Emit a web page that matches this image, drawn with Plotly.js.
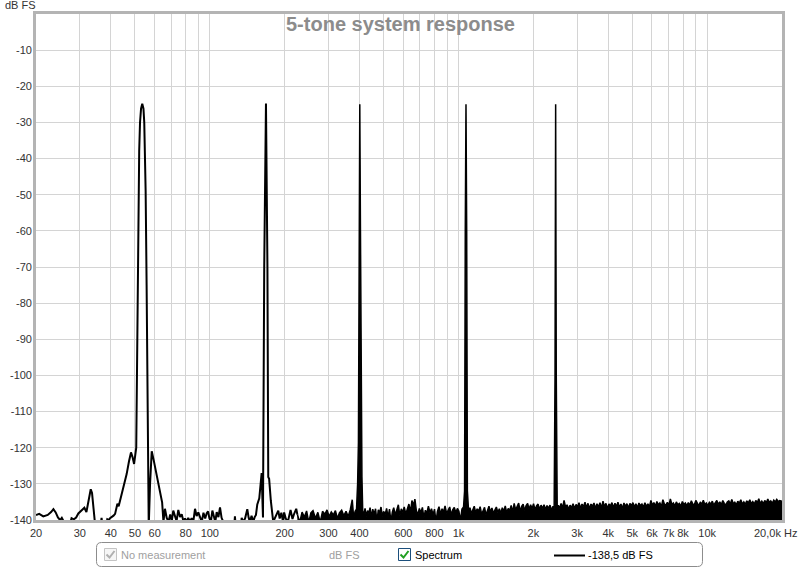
<!DOCTYPE html>
<html>
<head>
<meta charset="utf-8">
<script src="https://cdn.plot.ly/plotly-3.0.1.min.js"></script>
<style>html,body{margin:0;padding:0;background:#fff;}#chart{width:800px;height:568px;}</style>
</head>
<body>
<div id="chart"></div>
<script>
// ---- Data ----
// Low-frequency part of the spectrum (drawn as plain line)
const loFreq = [
20.0,20.6,21.4,22.3,23.0,23.5,24.0,24.5,25.0,25.4,
25.8,26.3,27.3,27.8,28.4,29.0,29.6,30.2,30.8,31.3,
31.9,32.4,33.2,33.6,34.1,34.6,36.4,36.7,37.0,38.3,
38.7,39.2,39.7,40.4,41.0,41.6,42.1,42.5,43.0,43.5,
44.2,45.2,46.3,47.3,48.2,48.9,49.6,50.6,51.2,51.6,
52.0,52.4,52.9,53.5,54.1,54.5,54.8,55.2,55.7,56.3,
56.8,57.5,58.4,59.5,61.5,63.0,64.3,65.1,66.0,67.1,
68.2,69.3,70.3,71.3,72.4,73.5,74.7,75.9,77.1,78.3,
79.5,80.7,81.9,83.2,84.5,85.8,87.2,88.5,89.9,91.4,
92.8,94.3,95.8,97.2,98.4,99.6,101.0,102.4,103.8,105.2,
106.6,108.3,109.9,111.5,113.3,115.0,125.4,126.2,127.0,133.6,
134.3,136.0,138.6,141.5,143.3,145.0,147.2,149.5,151.5,153.3,
155.2,158.1,161.6,163.6,165.5,168.2,170.5,171.8,173.2,175.9,
179.9,184.0,188.5,191.0,194.0,197.0,199.0,202.0,206.0,211.2,
215.0,218.0,222.6,225.0];
const loDb = [
-138.6,-138.3,-139.0,-138.6,-137.8,-137.0,-137.9,-139.3,-140.0,-139.4,
-140.3,-141.5,-141.5,-139.5,-139.8,-139.3,-138.2,-137.6,-136.8,-136.6,
-137.8,-135.5,-131.5,-132.5,-136.5,-141.5,-141.5,-139.4,-141.5,-141.5,
-139.8,-140.0,-139.5,-139.2,-138.8,-138.3,-136.5,-135.5,-136.2,-134.8,
-133.3,-130.5,-127.3,-123.8,-121.3,-122.6,-124.5,-120.0,-75.0,-49.0,
-38.0,-30.0,-26.2,-24.8,-26.2,-30.0,-38.0,-49.0,-75.0,-125.0,
-142.0,-130.0,-121.0,-123.5,-128.4,-132.0,-135.1,-140.5,-136.9,-139.4,
-140.5,-138.5,-140.3,-137.4,-138.6,-140.3,-137.2,-139.2,-138.4,-140.3,
-139.6,-140.5,-139.4,-140.5,-139.5,-140.5,-136.9,-138.9,-137.9,-139.5,
-140.5,-138.0,-139.6,-138.1,-137.6,-139.5,-140.5,-137.4,-138.8,-140.5,
-137.8,-139.2,-136.5,-139.4,-140.5,-141.5,-141.5,-139.0,-141.5,-141.5,
-139.4,-140.5,-139.6,-137.0,-139.4,-140.5,-138.8,-140.5,-139.2,-138.6,
-135.7,-134.0,-127.0,-139.3,-70.0,-24.8,-70.0,-128.1,-128.6,-134.6,
-140.5,-139.2,-137.4,-139.6,-138.0,-140.5,-137.9,-139.6,-140.5,-137.2,
-139.7,-138.4,-136.9,-138.5];

// Dense noise floor and upper tones (drawn filled down to the axis floor)
const hiFreq = [
225,230,235,240,245,250,255,260,266,272,
278,284,290,296,302,308,314,320,326,332,
339,346,353,360,367,374,379,384,389,393,
396,398.5,401,403.5,406,409,412,416,421,426,
431,436,441,446,452,458,464,470,476,482,
488,494,500,507,514,521,528,535,542,549,
557,565,573,581,589,597,605,614,623,632,
641,650,659,668,677,686,696,706,716,726,
736,746,757,768,779,790,801,812,823,835,
847,859,871,883,896,909,922,935,948,962,
976,990,1004,1018,1033,1048,1058,1065,1072,1079,
1086,1098,1112,1127,1142,1157,1173,1189,1205,1222,
1239,1256,1273,1290,1308,1326,1344,1363,1382,1401,
1420,1440,1460,1480,1500,1521,1542,1563,1585,1607,
1629,1652,1675,1698,1722,1746,1770,1795,1820,1845,
1871,1897,1923,1950,1977,2004,2032,2060,2089,2118,
2148,2178,2208,2239,2270,2302,2334,2367,2400,2425,
2445,2459,2473,2495,2520,2551,2586,2622,2658,2695,
2733,2771,2810,2849,2889,2929,2970,3011,3053,3096,
3139,3183,3227,3272,3318,3364,3411,3459,3507,3556,
3606,3656,3707,3759,3812,3865,3919,3974,4029,4085,
4142,4200,4259,4318,4378,4439,4501,4564,4628,4693,
4759,4825,4892,4961,5030,5100,5171,5244,5317,5391,
5466,5543,5620,5699,5778,5859,5941,6024,6108,6193,
6280,6367,6456,6546,6638,6730,6824,6919,7016,7114,
7213,7314,7416,7519,7624,7731,7839,7948,8059,8172,
8286,8402,8519,8638,8759,8881,9005,9131,9259,9388,
9519,9652,9787,9924,10063,10203,10346,10490,10637,10786,
10936,11089,11244,11401,11561,11722,11886,12052,12221,12392,
12565,12740,12919,13099,13282,13468,13656,13847,14041,14237,
14436,14638,14842,15050,15260,15474,15690,15909,16132,16357,
16586,16818,17053,17291,17533,17778,18026,18278,18534,18793,
19055,19322,19592,20000];
const hiDb = [
-138.5,-140.6,-137.8,-139.2,-137.5,-140.6,-138.0,-137.4,-139.5,-137.9,
-140.6,-137.6,-138.4,-137.2,-139.0,-137.8,-138.6,-137.4,-139.6,-138.0,
-137.3,-138.8,-137.6,-139.0,-137.2,-134.4,-139.5,-137.6,-137.0,-130.0,
-118.5,-60.0,-25.0,-60.0,-121.0,-128.0,-137.5,-138.6,-136.8,-139.0,
-137.4,-138.2,-136.6,-139.2,-137.0,-138.4,-136.9,-140.4,-137.2,-138.0,
-136.4,-139.0,-137.6,-138.5,-136.8,-139.2,-137.0,-140.5,-137.8,-136.6,
-138.6,-137.2,-135.8,-138.8,-136.9,-137.9,-136.4,-138.3,-137.1,-135.6,
-137.8,-134.6,-136.0,-134.2,-137.4,-138.6,-136.8,-138.0,-136.5,-139.4,
-137.3,-138.1,-136.2,-137.9,-136.9,-138.5,-137.0,-140.5,-137.6,-136.3,
-138.4,-136.9,-137.8,-136.1,-138.2,-137.0,-136.4,-138.6,-137.2,-136.5,
-138.0,-136.8,-137.6,-140.2,-137.0,-136.4,-132.0,-60.0,-25.0,-60.0,
-132.0,-137.5,-136.6,-138.2,-137.0,-136.2,-138.0,-136.9,-137.6,-136.3,
-138.4,-137.1,-136.5,-138.6,-137.0,-136.2,-137.8,-136.7,-138.1,-137.2,
-136.4,-137.9,-136.9,-138.2,-136.6,-137.6,-136.1,-138.0,-136.8,-137.4,
-136.0,-137.8,-135.4,-137.2,-136.3,-135.3,-137.6,-136.2,-135.6,-137.4,
-136.0,-135.4,-137.0,-135.8,-136.8,-135.5,-137.2,-136.1,-135.6,-137.0,
-135.9,-136.8,-135.8,-137.1,-136.0,-136.8,-135.9,-137.3,-136.2,-136.8,
-100.0,-25.0,-100.0,-137.0,-135.9,-136.8,-135.4,-136.7,-134.6,-136.4,
-135.8,-137.0,-135.9,-136.6,-135.5,-136.9,-135.7,-136.4,-135.2,-136.8,
-135.6,-136.3,-135.1,-136.6,-135.4,-136.9,-135.6,-136.2,-135.3,-136.8,
-135.5,-136.4,-135.2,-136.7,-134.8,-136.3,-135.4,-136.8,-135.6,-136.1,
-135.2,-136.6,-135.4,-136.3,-135.1,-136.5,-135.6,-136.8,-135.3,-136.2,
-135.5,-136.7,-135.4,-136.1,-135.2,-136.4,-135.5,-136.6,-135.3,-136.0,
-135.6,-136.5,-135.2,-136.3,-135.5,-136.4,-134.6,-135.9,-135.2,-136.2,
-134.9,-135.8,-135.3,-136.3,-134.4,-135.6,-135.9,-135.1,-136.0,-134.2,
-135.7,-135.3,-136.1,-135.0,-135.8,-135.4,-136.2,-134.9,-135.7,-135.3,
-136.0,-135.2,-135.9,-134.7,-135.6,-135.8,-134.6,-135.5,-136.1,-135.0,
-135.7,-134.5,-135.8,-135.3,-136.0,-135.1,-135.6,-134.8,-135.9,-135.2,
-134.6,-135.7,-135.0,-135.8,-134.6,-135.4,-135.9,-135.0,-134.7,-135.6,
-134.3,-135.5,-135.1,-135.8,-134.8,-135.4,-134.4,-135.6,-135.0,-135.7,
-134.7,-135.3,-134.4,-135.5,-134.9,-135.6,-134.6,-135.2,-134.1,-135.4,
-134.8,-135.5,-134.6,-135.3,-134.2,-135.1,-134.7,-135.4,-134.5,-135.0,
-134.3,-134.9,-134.6,-134.8];

// Axis ticks
const xGridVals = [20,30,40,50,60,70,80,90,100,200,300,400,500,600,700,800,900,
  1000,2000,3000,4000,5000,6000,7000,8000,9000,10000];
const xTickText = ["20","30","40","50","60","","80","","100","200","300","400","","600","","800","",
  "1k","2k","3k","4k","5k","6k","7k","8k","","10k"];
const yTickVals = [-10,-20,-30,-40,-50,-60,-70,-80,-90,-100,-110,-120,-130,-140];
const yTickText = yTickVals.map(String);
const yMin = -140, yMax = 0;

const titleText = "5-tone system response";
const legendTexts = {noMeas: "No measurement", unit: "dB FS", series: "Spectrum", cursor: "-138,5 dB FS"};

// ---- Layout helpers (pixel -> paper) ----
const PL = 36, PR = 782, PT = 14, PB = 520;
const px = x => (x - PL) / (PR - PL);
const py = y => (PB - y) / (PB - PT);
const P = (x, y) => px(x).toFixed(5) + "," + py(y).toFixed(5);

function roundRect(x0, y0, x1, y1, r) {
  return "M" + P(x0 + r, y0) + " L" + P(x1 - r, y0) + " Q" + P(x1, y0) + " " + P(x1, y0 + r) +
    " L" + P(x1, y1 - r) + " Q" + P(x1, y1) + " " + P(x1 - r, y1) +
    " L" + P(x0 + r, y1) + " Q" + P(x0, y1) + " " + P(x0, y1 - r) +
    " L" + P(x0, y0 + r) + " Q" + P(x0, y0) + " " + P(x0 + r, y0) + " Z";
}

const FONT = "Liberation Sans, Arial, sans-serif";

const traces = [
  {x: loFreq, y: loDb, type: "scatter", mode: "lines",
   line: {color: "#000", width: 2}, hoverinfo: "skip", showlegend: false},
  {x: [hiFreq[0], hiFreq[hiFreq.length - 1]], y: [yMin - 5, yMin - 5], type: "scatter", mode: "lines",
   line: {width: 0, color: "rgba(0,0,0,0)"}, hoverinfo: "skip", showlegend: false},
  {x: hiFreq, y: hiDb, type: "scatter", mode: "lines", fill: "tonexty", fillcolor: "#000",
   line: {color: "#000", width: 1.5}, hoverinfo: "skip", showlegend: false}
];

const shapes = [
  // plot frame
  {type: "rect", xref: "paper", yref: "paper", x0: px(34.5), x1: px(783.5), y0: py(521.5), y1: py(12.5),
   line: {color: "#b4b4b4", width: 3}, layer: "above"},
  // legend box
  {type: "path", xref: "paper", yref: "paper", path: roundRect(96.5, 542.5, 702.5, 566.5, 5),
   line: {color: "#8c8c8c", width: 1}},
  // checkbox 1 (disabled)
  {type: "rect", xref: "paper", yref: "paper", x0: px(104.5), x1: px(116.5), y0: py(560.5), y1: py(548.5),
   line: {color: "#c4c4c4", width: 1}, fillcolor: "#f6f6f6"},
  {type: "path", xref: "paper", yref: "paper", path: "M" + P(106.5, 554.5) + " L" + P(109.5, 557.5) + " L" + P(114.5, 551),
   line: {color: "#b0b0b0", width: 2}},
  // checkbox 2
  {type: "rect", xref: "paper", yref: "paper", x0: px(398.5), x1: px(410.5), y0: py(560.5), y1: py(548.5),
   line: {color: "#1c4f7c", width: 1}, fillcolor: "#ffffff"},
  {type: "path", xref: "paper", yref: "paper", path: "M" + P(400.5, 554.5) + " L" + P(403.5, 557.5) + " L" + P(408.5, 551),
   line: {color: "#22a022", width: 2}},
  // legend line sample
  {type: "line", xref: "paper", yref: "paper", x0: px(554), x1: px(585), y0: py(555.5), y1: py(555.5),
   line: {color: "#000", width: 2}}
];

const annotations = [
  {text: "<b>" + titleText + "</b>", xref: "paper", yref: "paper", x: px(400), y: py(24),
   xanchor: "center", yanchor: "middle", showarrow: false, font: {family: FONT, size: 20, color: "#8c8c8c"}},
  {text: "dB FS", xref: "paper", yref: "paper", x: px(20), y: py(5), xanchor: "center", yanchor: "middle",
   showarrow: false, font: {family: FONT, size: 11, color: "#333"}},
  {text: "20,0k Hz", xref: "paper", yref: "paper", x: px(799), y: py(533), xanchor: "right", yanchor: "middle",
   showarrow: false, font: {family: FONT, size: 11, color: "#333"}},
  {text: legendTexts.noMeas, xref: "paper", yref: "paper", x: px(119), y: py(555), xanchor: "left", yanchor: "middle",
   showarrow: false, font: {family: FONT, size: 11, color: "#a0a0a0"}},
  {text: legendTexts.unit, xref: "paper", yref: "paper", x: px(344), y: py(555), xanchor: "center", yanchor: "middle",
   showarrow: false, font: {family: FONT, size: 11, color: "#a0a0a0"}},
  {text: legendTexts.series, xref: "paper", yref: "paper", x: px(413), y: py(555), xanchor: "left", yanchor: "middle",
   showarrow: false, font: {family: FONT, size: 11, color: "#000"}},
  {text: legendTexts.cursor, xref: "paper", yref: "paper", x: px(586), y: py(555), xanchor: "left", yanchor: "middle",
   showarrow: false, font: {family: FONT, size: 11, color: "#000"}}
];

const layout = {
  width: 800, height: 568,
  margin: {l: PL, r: 800 - PR, t: PT, b: 568 - PB, pad: 0},
  paper_bgcolor: "#fff", plot_bgcolor: "#fff",
  showlegend: false,
  font: {family: FONT, size: 11, color: "#333"},
  xaxis: {type: "log", range: [Math.log10(20), Math.log10(20000)],
    tickmode: "array", tickvals: xGridVals, ticktext: xTickText,
    showgrid: true, gridcolor: "#d4d4d4", gridwidth: 1, zeroline: false, showline: false,
    ticks: "", ticklabelstandoff: 5, tickfont: {family: FONT, size: 11, color: "#333"}, fixedrange: true},
  yaxis: {range: [yMin, yMax], tickmode: "array", tickvals: yTickVals, ticktext: yTickText,
    showgrid: true, gridcolor: "#d4d4d4", gridwidth: 1, zeroline: false, showline: false,
    ticks: "", ticklabelstandoff: 3, tickfont: {family: FONT, size: 11, color: "#333"}, fixedrange: true},
  shapes: shapes,
  annotations: annotations
};

Plotly.newPlot("chart", traces, layout, {staticPlot: true, displayModeBar: false});
</script>
</body>
</html>
